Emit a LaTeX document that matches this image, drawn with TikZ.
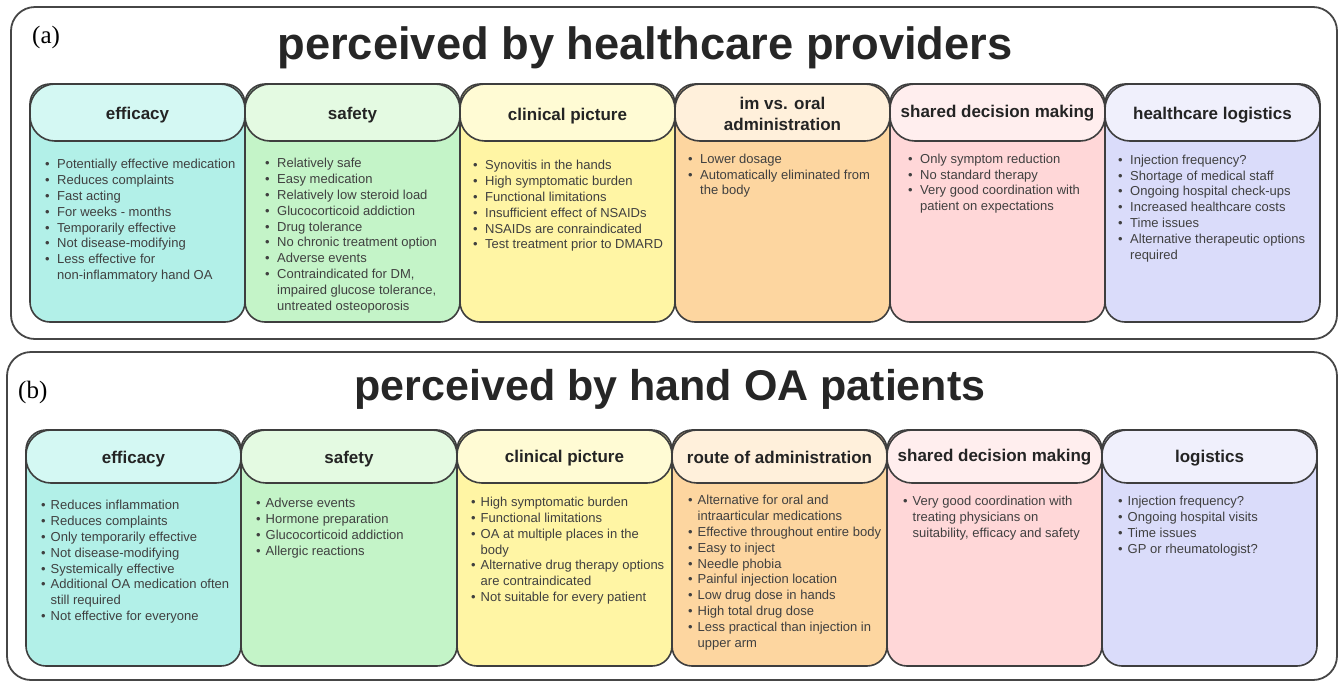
\documentclass[tikz,border=0pt]{standalone}
\usepackage{fontspec}
\setmainfont{Liberation Sans}
\newfontfamily\tagfont{Liberation Serif}
\usepackage{tikz}
\usetikzlibrary{calc}

\definecolor{edge}{RGB}{62, 62, 62}
\definecolor{frame}{RGB}{70, 70, 70}
\definecolor{titleink}{RGB}{38, 38, 38}
\definecolor{headink}{RGB}{36, 36, 36}
\definecolor{listink}{RGB}{64, 64, 64}
% body / header fills, one pair per category
\definecolor{effbody}{RGB}{178, 240, 232}
\definecolor{effhead}{RGB}{212, 248, 243}
\definecolor{safbody}{RGB}{196, 244, 200}
\definecolor{safhead}{RGB}{228, 250, 226}
\definecolor{clinbody}{RGB}{255, 245, 164}
\definecolor{clinhead}{RGB}{255, 251, 212}
\definecolor{admbody}{RGB}{253, 214, 160}
\definecolor{admhead}{RGB}{255, 240, 219}
\definecolor{sdmbody}{RGB}{255, 215, 216}
\definecolor{sdmhead}{RGB}{255, 238, 238}
\definecolor{logbody}{RGB}{218, 220, 250}
\definecolor{loghead}{RGB}{240, 240, 252}

\newlength\bulw
\newcommand{\bitem}{\makebox[\bulw][l]{\textbullet}}
\newcommand{\bcont}{\hspace*{\bulw}}
\newcommand{\fst}{\rule{0pt}{10pt}}

\begin{document}
\begin{tikzpicture}[
  x=1pt, y=-1pt,
  panel/.style={draw=frame, line width=1.8pt, rounded corners=24pt},
  bodybox/.style={draw=edge, line width=1.6pt, rounded corners=20pt},
  headbox/.style={draw=edge, line width=1.6pt, rounded corners=25pt},
  headtxt/.style={font=\bfseries\fontsize{17}{21}\selectfont, text=headink, align=center, inner sep=0pt},
  listtxt/.style={font=\fontsize{13}{15.8}\selectfont, text=listink, align=left, anchor=north west, inner sep=0pt},
  paneltitle/.style={font=\bfseries\fontsize{44}{50}\selectfont, text=titleink, anchor=base, inner sep=0pt},
  tag/.style={font=\tagfont\fontsize{25}{28}\selectfont, anchor=base west, inner sep=0pt}
]
\useasboundingbox (0,0) rectangle (1341,681);

% ---------- (a) healthcare providers ----------
\draw[panel] (11,7) rectangle (1337,339);
\node[tag] (tagA) at (32,43) {(a)};
\node[paneltitle, font=\bfseries\fontsize{45.3}{50}\selectfont] (titleA) at (645,59) {perceived by healthcare providers};
\setlength\bulw{12pt}

\draw[bodybox, fill=effbody] (30,84) rectangle (245,322);
\draw[headbox, fill=effhead] (30,84) rectangle (245,141);
\node[headtxt] (a-eff) at (137.5,115) {efficacy};
\node[listtxt] (a-eff-list) at (45,158.7) {\fst\bitem Potentially effective medication\\
  \bitem Reduces complaints\\ \bitem Fast acting\\ \bitem For weeks - months\\
  \bitem Temporarily effective\\ \bitem Not disease-modifying\\
  \bitem Less effective for\\ \bcont non-inflammatory hand OA};

\draw[bodybox, fill=safbody] (245,84) rectangle (460,322);
\draw[headbox, fill=safhead] (245,84) rectangle (460,141);
\node[headtxt] (a-saf) at (352.5,115) {safety};
\node[listtxt] (a-saf-list) at (265,157.7) {\fst\bitem Relatively safe\\
  \bitem Easy medication\\ \bitem Relatively low steroid load\\
  \bitem Glucocorticoid addiction\\ \bitem Drug tolerance\\
  \bitem No chronic treatment option\\ \bitem Adverse events\\
  \bitem Contraindicated for DM,\\ \bcont impaired glucose tolerance,\\
  \bcont untreated osteoporosis};

\draw[bodybox, fill=clinbody] (460,84) rectangle (675,322);
\draw[headbox, fill=clinhead] (460,84) rectangle (675,141);
\node[headtxt] (a-clin) at (567.5,116) {clinical picture};
\node[listtxt] (a-clin-list) at (473,159.7) {\fst\bitem Synovitis in the hands\\
  \bitem High symptomatic burden\\ \bitem Functional limitations\\
  \bitem Insufficient effect of NSAIDs\\ \bitem NSAIDs are conraindicated\\
  \bitem Test treatment prior to DMARD};

\draw[bodybox, fill=admbody] (675,84) rectangle (890,322);
\draw[headbox, fill=admhead] (675,84) rectangle (890,141);
\node[headtxt] (a-adm) at (782.5,113.5) {im vs. oral\\administration};
\node[listtxt] (a-adm-list) at (688,153) {\fst\bitem Lower dosage\\
  \bitem Automatically eliminated from\\ \bcont the body};

\draw[bodybox, fill=sdmbody] (890,84) rectangle (1105,322);
\draw[headbox, fill=sdmhead] (890,84) rectangle (1105,141);
\node[headtxt] (a-sdm) at (997.5,113) {shared decision making};
\node[listtxt] (a-sdm-list) at (908,153) {\fst\bitem Only symptom reduction\\
  \bitem No standard therapy\\ \bitem Very good coordination with\\
  \bcont patient on expectations};

\draw[bodybox, fill=logbody] (1105,84) rectangle (1320,322);
\draw[headbox, fill=loghead] (1105,84) rectangle (1320,141);
\node[headtxt] (a-log) at (1212.5,115) {healthcare logistics};
\node[listtxt] (a-log-list) at (1118,154) {\fst\bitem Injection frequency?\\
  \bitem Shortage of medical staff\\ \bitem Ongoing hospital check-ups\\
  \bitem Increased healthcare costs\\ \bitem Time issues\\
  \bitem Alternative therapeutic options\\ \bcont required};

% ---------- (b) hand OA patients ----------
\draw[panel] (7,352) rectangle (1337,680);
\node[tag] (tagB) at (18,398) {(b)};
\node[paneltitle, font=\bfseries\fontsize{43}{50}\selectfont] (titleB) at (670,400) {perceived by hand OA patients};
\setlength\bulw{9.5pt}

\draw[bodybox, fill=effbody] (26,430) rectangle (241,666);
\draw[headbox, fill=effhead] (26,430) rectangle (241,483);
\node[headtxt] (b-eff) at (133.5,459.5) {efficacy};
\node[listtxt] (b-eff-list) at (41,499.7) {\fst\bitem Reduces inflammation\\
  \bitem Reduces complaints\\ \bitem Only temporarily effective\\
  \bitem Not disease-modifying\\ \bitem Systemically effective\\
  \bitem Additional OA medication often\\ \bcont still required\\
  \bitem Not effective for everyone};

\draw[bodybox, fill=safbody] (241,430) rectangle (457,666);
\draw[headbox, fill=safhead] (241,430) rectangle (457,483);
\node[headtxt] (b-saf) at (349,459.5) {safety};
\node[listtxt] (b-saf-list) at (256,497.7) {\fst\bitem Adverse events\\
  \bitem Hormone preparation\\ \bitem Glucocorticoid addiction\\
  \bitem Allergic reactions};

\draw[bodybox, fill=clinbody] (457,430) rectangle (672,666);
\draw[headbox, fill=clinhead] (457,430) rectangle (672,483);
\node[headtxt] (b-clin) at (564.5,458.5) {clinical picture};
\node[listtxt] (b-clin-list) at (471,496.4) {\fst\bitem High symptomatic burden\\
  \bitem Functional limitations\\ \bitem OA at multiple places in the\\
  \bcont body\\ \bitem Alternative drug therapy options\\
  \bcont are contraindicated\\ \bitem Not suitable for every patient};

\draw[bodybox, fill=admbody] (672,430) rectangle (887,666);
\draw[headbox, fill=admhead] (672,430) rectangle (887,483);
\node[headtxt] (b-adm) at (779.5,457) {route of administration};
\node[listtxt] (b-adm-list) at (688,494.7) {\fst\bitem Alternative for oral and\\
  \bcont intraarticular medications\\ \bitem Effective throughout entire body\\
  \bitem Easy to inject\\ \bitem Needle phobia\\
  \bitem Painful injection location\\ \bitem Low drug dose in hands\\
  \bitem High total drug dose\\ \bitem Less practical than injection in\\
  \bcont upper arm};

\draw[bodybox, fill=sdmbody] (887,430) rectangle (1102,666);
\draw[headbox, fill=sdmhead] (887,430) rectangle (1102,483);
\node[headtxt] (b-sdm) at (994.5,457) {shared decision making};
\node[listtxt] (b-sdm-list) at (903,495.4) {\fst\bitem Very good coordination with\\
  \bcont treating physicians on\\ \bcont suitability, efficacy and safety};

\draw[bodybox, fill=logbody] (1102,430) rectangle (1317,666);
\draw[headbox, fill=loghead] (1102,430) rectangle (1317,483);
\node[headtxt] (b-log) at (1209.5,458) {logistics};
\node[listtxt] (b-log-list) at (1118,495.4) {\fst\bitem Injection frequency?\\
  \bitem Ongoing hospital visits\\ \bitem Time issues\\
  \bitem GP or rheumatologist?};
\end{tikzpicture}
\end{document}
